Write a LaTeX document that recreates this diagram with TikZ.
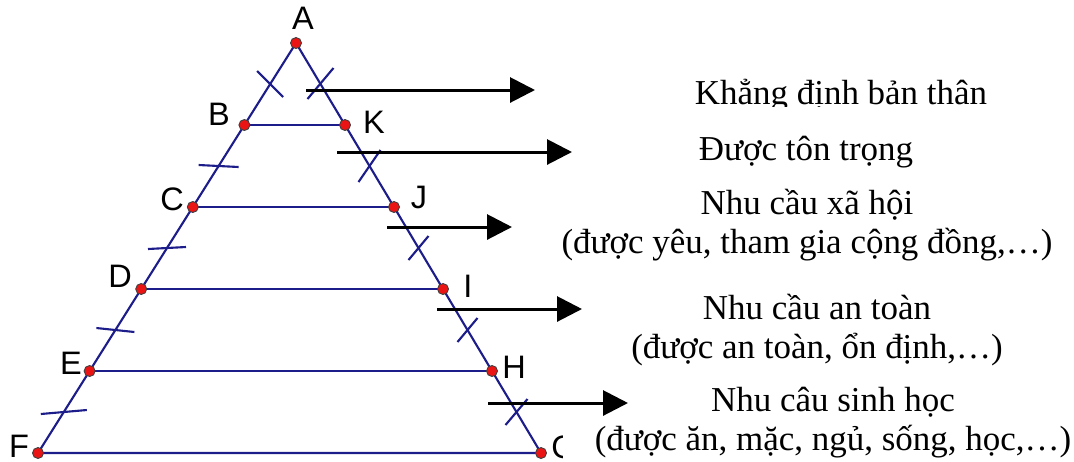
\documentclass[tikz,border=0pt]{standalone}
\usepackage{fontspec}
\setmainfont{Liberation Serif}
\newfontfamily\ptfont{Liberation Sans}
\usepackage{tikz}
\usetikzlibrary{arrows.meta,calc}
\definecolor{pyrLine}{RGB}{28,28,138}
\definecolor{pyrDot}{RGB}{235,20,20}
\tikzset{
    side/.style={draw=pyrLine, line width=1.2pt},
    tickmark/.style={draw=pyrLine, line width=1.2pt},
    pt/.style={
        circle,
        fill=pyrDot,
        draw=black!75,
        line width=0.5pt,
        inner sep=0pt,
        minimum size=0.22cm
    },
    ptLabel/.style={font=\ptfont\fontsize{18.5}{20}\selectfont, inner sep=0pt},
    % arrows towards the needs
    needArrow/.style={-{Triangle[length=0.5cm,width=0.5cm]}, line width=1.7pt, draw=black},
    needText/.style={
        font=\fontsize{19.9}{21.8}\selectfont,
        align=center,
        inner sep=0pt,
        anchor=base
    }
}
\begin{document}
\begin{tikzpicture}[x=0.02cm, y=-0.02cm]
\useasboundingbox (0,0) rectangle (1074,461);

% vertices of the pyramid
\coordinate (A) at (296,43);
\coordinate (F) at (38,453);
\coordinate (G) at (541,453);
\coordinate (B) at ($(A)!0.2!(F)$);
\coordinate (C) at ($(A)!0.4!(F)$);
\coordinate (D) at ($(A)!0.6!(F)$);
\coordinate (E) at ($(A)!0.8!(F)$);
\coordinate (K) at ($(A)!0.2!(G)$);
\coordinate (J) at ($(A)!0.4!(G)$);
\coordinate (I) at ($(A)!0.6!(G)$);
\coordinate (H) at ($(A)!0.8!(G)$);

\draw[side] (F) -- (A) -- (G) -- cycle;
\draw[side] (B) -- (K);
\draw[side] (C) -- (J);
\draw[side] (D) -- (I);
\draw[side] (E) -- (H);

% equal segments
\draw[tickmark] ($(A)!0.5!(B)$) ++(-13,-13) -- ++(26,26);
\draw[tickmark] ($(A)!0.5!(K)$) ++(-13,15) -- ++(26,-31);
\foreach \p/\q/\dx/\dy in {B/C/20/1, C/D/19/-1, D/E/19/2, E/F/23/-2}
    \draw[tickmark] ($(\p)!0.5!(\q)$) ++(-\dx,-\dy) -- ++(2*\dx,2*\dy);
\foreach \p/\q/\dx/\dy in {K/J/11/-16, J/I/10/-12, I/H/10/-12, H/G/11/-13}
    \draw[tickmark] ($(\p)!0.5!(\q)$) ++(-\dx,-\dy) -- ++(2*\dx,2*\dy);

% points
\foreach \v in {A,B,C,D,E,F,G,H,I,J,K}
    \node[pt] (d\v) at (\v) {};

\node[ptLabel] (lA) at (303,18) {A};
\node[ptLabel] (lB) at (219,114) {B};
\node[ptLabel] (lK) at (374,122) {K};
\node[ptLabel] (lC) at (172,199) {C};
\node[ptLabel] (lJ) at (419,197) {J};
\node[ptLabel] (lD) at (120,276) {D};
\node[ptLabel] (lI) at (468,286) {I};
\node[ptLabel] (lE) at (71,363) {E};
\node[ptLabel] (lH) at (514,367) {H};
\node[ptLabel] (lF) at (19,446) {F};
\begin{scope}
    \clip (540,420) rectangle (562,461);
    \node[ptLabel] (lG) at (564,447) {G};
\end{scope}

% needs
\begin{scope}
    \clip (600,40) rectangle (1074,106);
    \node[needText] (self) at (841,104) {Khẳng định bản thân};
\end{scope}
\node[needText] (esteem) at (806,160) {Được tôn trọng};
\node[needText] (social) at (807,253) {Nhu cầu xã hội\\(được yêu, tham gia cộng đồng,…)};
\node[needText] (safety) at (817,358) {Nhu cầu an toàn\\(được an toàn, ổn định,…)};
\node[needText] (body) at (833,450) {Nhu câu sinh học\\(được ăn, mặc, ngủ, sống, học,…)};

\coordinate (n1s) at (306,90);  \coordinate (n1e) at (535,90);
\coordinate (n2s) at (337,152); \coordinate (n2e) at (572,152);
\coordinate (n3s) at (387,227); \coordinate (n3e) at (512,227);
\coordinate (n4s) at (437,309); \coordinate (n4e) at (582,309);
\coordinate (n5s) at (488,403); \coordinate (n5e) at (628,403);
\draw[needArrow] (n1s) -- (n1e);
\draw[needArrow] (n2s) -- (n2e);
\draw[needArrow] (n3s) -- (n3e);
\draw[needArrow] (n4s) -- (n4e);
\draw[needArrow] (n5s) -- (n5e);
\end{tikzpicture}
\end{document}
